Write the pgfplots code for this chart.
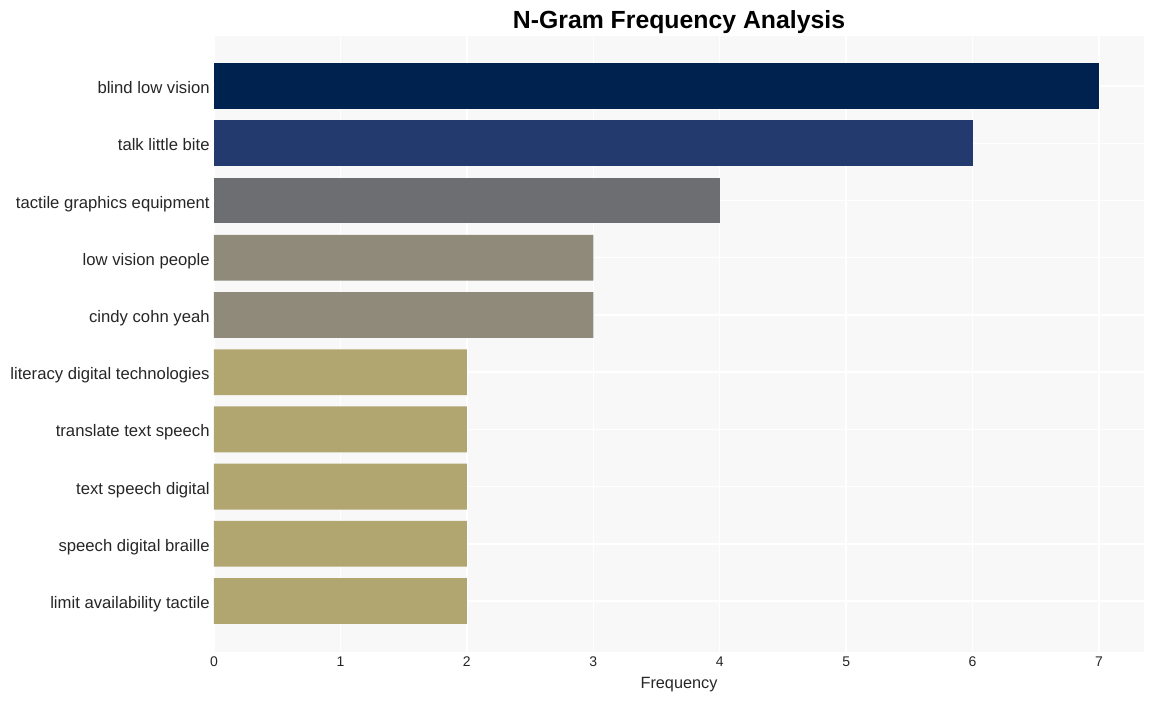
\documentclass[border=0pt]{standalone}
\usepackage{pgfplots}
\pgfplotsset{compat=1.18}
\usepackage{fontspec}
\setmainfont{Liberation Sans}
\definecolor{c1}{HTML}{00224E}
\definecolor{c2}{HTML}{233A6E}
\definecolor{c3}{HTML}{6D6E72}
\definecolor{c4}{HTML}{8F8A79}
\definecolor{c5}{HTML}{B1A570}
\definecolor{bg}{HTML}{F8F8F8}
\definecolor{txt}{HTML}{262626}
\begin{document}
\begin{tikzpicture}
\useasboundingbox (0pt,0pt) rectangle (864.75pt,525.75pt);
\begin{axis}[
  at={(160.5pt,36.75pt)}, anchor=south west,
  scale only axis, width=697.5pt, height=462pt,
  xbar, bar width=0.8, bar shift=0pt,
  xmin=0, xmax=7.356, ymin=-0.874, ymax=9.89, y dir=reverse,
  axis background/.style={fill=bg},
  axis line style={draw=none},
  grid=major, major grid style={draw=white, line width=1pt},
  xtick={0,1,2,3,4,5,6,7},
  ytick={0,1,2,3,4,5,6,7,8,9},
  yticklabels={blind low vision,talk little bite,tactile graphics equipment,low vision people,cindy cohn yeah,literacy digital technologies,translate text speech,text speech digital,speech digital braille,limit availability tactile},
  tick style={draw=none},
  yticklabel style={font=\fontsize{12.5}{14}\selectfont, text=txt, text height=9pt, text depth=2.7pt, xshift=4.5pt, yshift=-2.5pt},
  xticklabel style={font=\fontsize{10.5}{12}\selectfont, text=txt},
  /pgf/number format/assume math mode=true,
  xlabel={Frequency}, xlabel style={font=\fontsize{12.2}{14}\selectfont, text=txt, yshift=-1.5pt},
  title={\textbf{N-Gram Frequency Analysis}}, title style={font=\fontsize{18.6}{22}\selectfont, yshift=-7.5pt},
]
\addplot[fill=c1, draw=none] coordinates {(7,0)};
\addplot[fill=c2, draw=none] coordinates {(6,1)};
\addplot[fill=c3, draw=none] coordinates {(4,2)};
\addplot[fill=c4, draw=none] coordinates {(3,3) (3,4)};
\addplot[fill=c5, draw=none] coordinates {(2,5) (2,6) (2,7) (2,8) (2,9)};
\end{axis}
\end{tikzpicture}
\end{document}
